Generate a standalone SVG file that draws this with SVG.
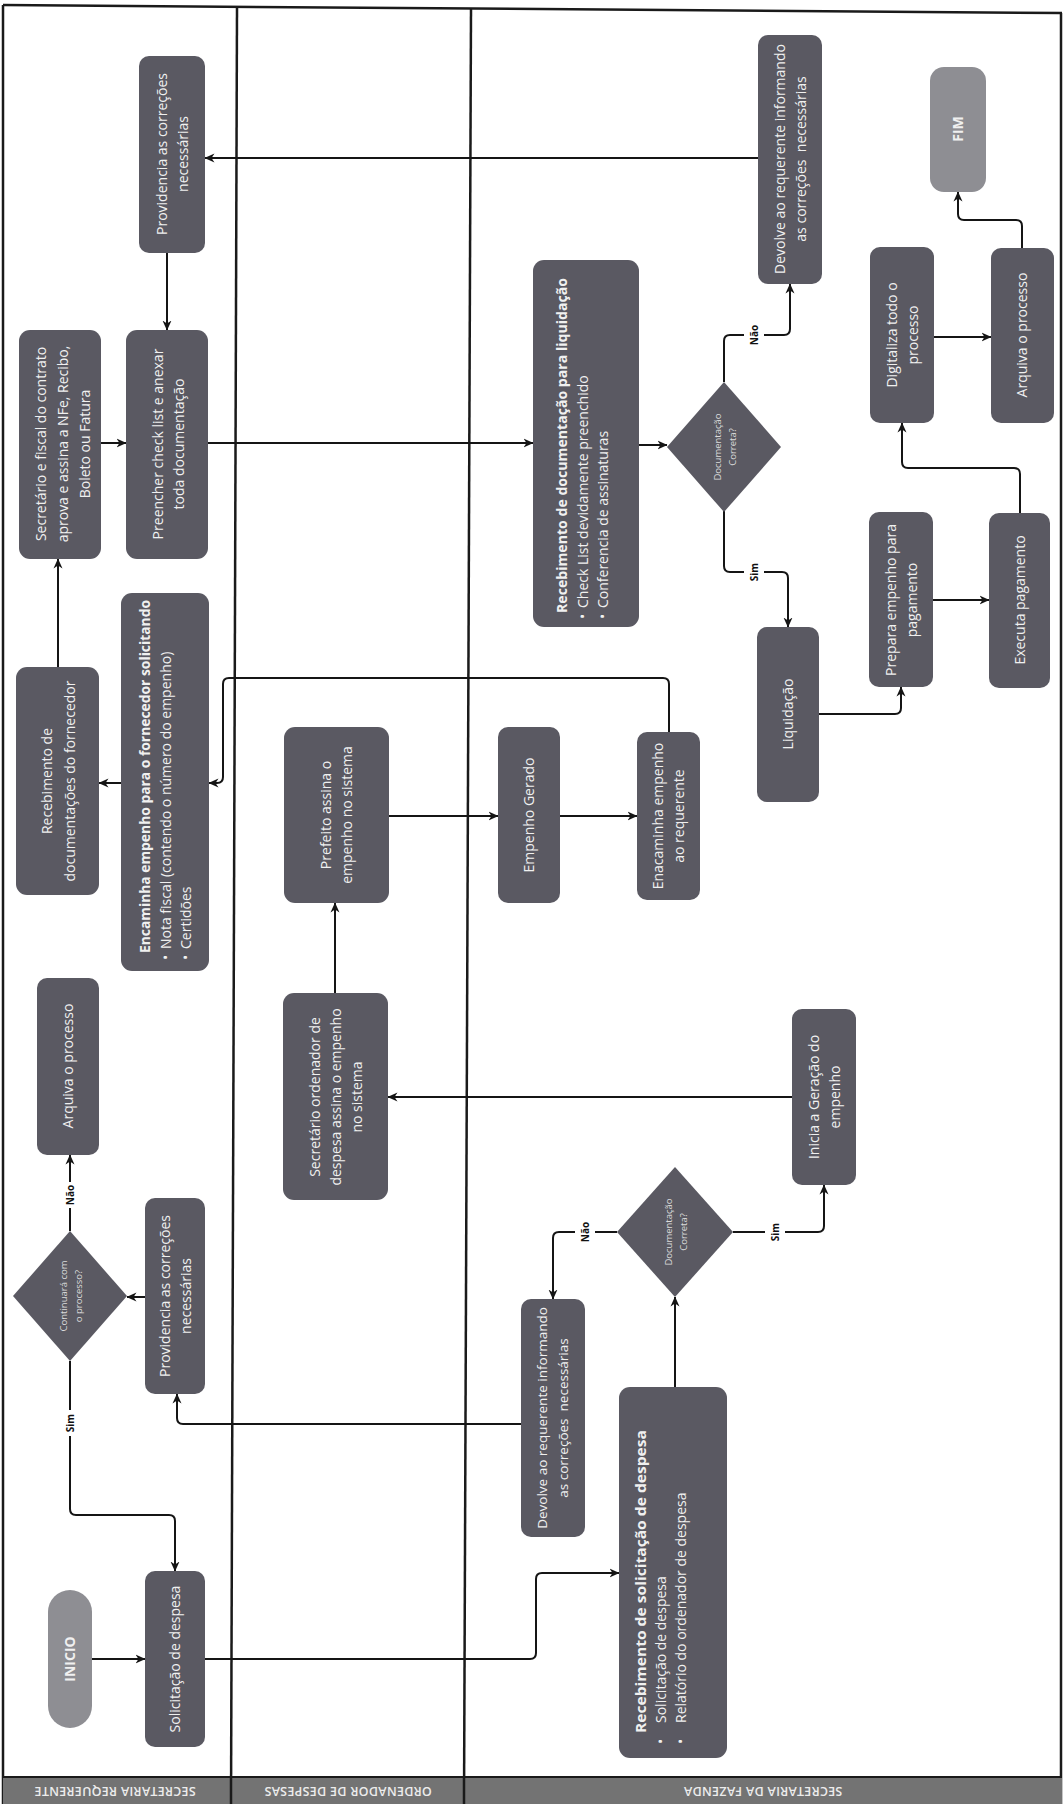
<svg xmlns="http://www.w3.org/2000/svg" width="1064" height="1804" viewBox="0 0 1064 1804">
<defs>
<style>
.n{fill:#5a5962}
.s{fill:#8e8e93}
.t{fill:#f0f0f0;font-family:"Open Sans","Liberation Sans",sans-serif;font-size:14px}
.dt{fill:#dcdcdc;font-family:"Open Sans","Liberation Sans",sans-serif;font-size:9.5px}
.b{font-weight:700}
.sm{font-size:13.5px}
.c{fill:none;stroke:#151515;stroke-width:2;marker-end:url(#ah)}
.fr{fill:none;stroke:#1a1a1a;stroke-width:2.5}
.lb{fill:#111;font-family:"Open Sans","Liberation Sans",sans-serif;font-size:10px;font-weight:700}
.hd{fill:#ececec;font-family:"Open Sans","Liberation Sans",sans-serif;font-size:12.5px;font-weight:600;letter-spacing:0.3px}
</style>
<marker id="ah" viewBox="0 0 10 10" refX="9.5" refY="5" markerWidth="10" markerHeight="10" markerUnits="userSpaceOnUse" orient="auto">
<path d="M0,0.5 L10,5 L0,9.5 L3,5 z" fill="#151515"/>
</marker>
</defs>
<rect x="0" y="0" width="1064" height="1804" fill="#ffffff"/>

<g id="lanes">
<path class="fr" d="M3,5 L1062,13"/>
<path class="fr" d="M3,5 V1804"/>
<path class="fr" d="M1061,13 V1804" stroke-width="3"/>
<path class="fr" d="M237,8 L231,1804"/>
<path class="fr" d="M471,9 L464,1804"/>
<rect x="3" y="1778" width="1059" height="26" fill="#737373"/>
<path d="M3,1777 H1062" stroke="#1a1a1a" stroke-width="2"/>
<path d="M231,1778 V1804 M464,1778 V1804" stroke="#1a1a1a" stroke-width="2.5"/>
<text class="hd" text-anchor="middle" transform="translate(115,1791) rotate(180)" y="4.5">SECRETARIA REQUERENTE</text>
<text class="hd" text-anchor="middle" transform="translate(348,1791) rotate(180)" y="4.5">ORDENADOR DE DESPESAS</text>
<text class="hd" text-anchor="middle" transform="translate(763,1791) rotate(180)" y="4.5">SECRETARIA DA FAZENDA</text>
</g>

<g id="connectors">
<path class="c" d="M92,1659 H145"/>
<path class="c" d="M205,1659 H530 Q536,1659 536,1653 V1579 Q536,1573 542,1573 H619"/>
<path class="c" d="M675,1387 V1297"/>
<path class="c" d="M617,1232 H559 Q553,1232 553,1238 V1299"/>
<path class="c" d="M733,1232 H818 Q824,1232 824,1226 V1185"/>
<path class="c" d="M521,1424 H183 Q177,1424 177,1418 V1394"/>
<path class="c" d="M145,1297 H127"/>
<path class="c" d="M70,1361 V1509 Q70,1515 76,1515 H169 Q175,1515 175,1521 V1571"/>
<path class="c" d="M70,1231 V1155"/>
<path class="c" d="M792,1097 H388"/>
<path class="c" d="M335,993 V903"/>
<path class="c" d="M389,816 H498"/>
<path class="c" d="M560,816 H637"/>
<path class="c" d="M669,732 V684 Q669,678 663,678 H229 Q223,678 223,684 V777 Q223,783 217,783 H209"/>
<path class="c" d="M121,783 H99"/>
<path class="c" d="M58,667 V559"/>
<path class="c" d="M101,443 H126"/>
<path class="c" d="M208,443 H533"/>
<path class="c" d="M639,445 H667"/>
<path class="c" d="M724,382 V341 Q724,335 730,335 H784 Q790,335 790,329 V284"/>
<path class="c" d="M724,510 V566 Q724,572 730,572 H782 Q788,572 788,578 V627"/>
<path class="c" d="M758,158 H205"/>
<path class="c" d="M167,253 V330"/>
<path class="c" d="M819,714 H895 Q901,714 901,708 V687"/>
<path class="c" d="M933,600 H989"/>
<path class="c" d="M1020,513 V474 Q1020,468 1014,468 H908 Q902,468 902,462 V423"/>
<path class="c" d="M934,337 H991"/>
<path class="c" d="M1022,248 V226 Q1022,220 1016,220 H964 Q958,220 958,214 V192"/>
<g id="labels">
<rect x="575" y="1219" width="20" height="26" fill="#fff"/>
<text class="lb" text-anchor="middle" transform="translate(585,1232) rotate(-90)" y="3.5">Não</text>
<rect x="765" y="1219" width="20" height="26" fill="#fff"/>
<text class="lb" text-anchor="middle" transform="translate(775,1232) rotate(-90)" y="3.5">Sim</text>
<rect x="62" y="1410" width="16" height="26" fill="#fff"/>
<text class="lb" text-anchor="middle" transform="translate(70,1423) rotate(-90)" y="3.5">Sim</text>
<rect x="62" y="1182" width="16" height="26" fill="#fff"/>
<text class="lb" text-anchor="middle" transform="translate(70,1195) rotate(-90)" y="3.5">Não</text>
<rect x="744" y="322" width="20" height="26" fill="#fff"/>
<text class="lb" text-anchor="middle" transform="translate(754,335) rotate(-90)" y="3.5">Não</text>
<rect x="744" y="559" width="20" height="26" fill="#fff"/>
<text class="lb" text-anchor="middle" transform="translate(754,572) rotate(-90)" y="3.5">Sim</text>
</g>
</g>

<g id="inicio">
<rect class="s" x="48" y="1590" width="44" height="138" rx="22"/>
<text class="t b" text-anchor="middle" transform="translate(70,1659) rotate(-90)" y="5">INICIO</text>
</g>
<g id="solicitacao">
<rect class="n" x="145" y="1571" width="60" height="176" rx="10"/>
<text class="t" text-anchor="middle" transform="translate(175,1659) rotate(-90)" y="5">Solicitação de despesa</text>
</g>
<g id="recebimento-solicitacao">
<rect class="n" x="619" y="1387" width="108" height="371" rx="11"/>
<text class="t" transform="translate(673,1572) rotate(-90)">
<tspan class="b" x="-161" y="-27" textLength="303" lengthAdjust="spacingAndGlyphs">Recebimento de solicitação de despesa</tspan>
<tspan x="-172" y="-7">•</tspan><tspan x="-151" y="-7">Solicitação de despesa</tspan>
<tspan x="-172" y="13">•</tspan><tspan x="-151" y="13">Relatório do ordenador de despesa</tspan>
</text>
</g>
<g id="devolve-1">
<rect class="n" x="521" y="1299" width="64" height="238" rx="10"/>
<text class="t sm" text-anchor="middle" xml:space="preserve" transform="translate(553,1418) rotate(-90)"><tspan x="0" y="-6">Devolve ao requerente informando</tspan><tspan x="0" y="15">as correções  necessárias</tspan></text>
</g>
<g id="decisao-1">
<polygon class="n" points="675,1167 733,1232 675,1297 617,1232"/>
<text class="dt" text-anchor="middle" transform="translate(676,1232) rotate(-90)"><tspan x="0" y="-4.5">Documentação</tspan><tspan x="0" y="11">Correta?</tspan></text>
</g>
<g id="continuara">
<polygon class="n" points="70,1231 127,1296 70,1361 13,1296"/>
<text class="dt" text-anchor="middle" transform="translate(71,1296) rotate(-90)"><tspan x="0" y="-4.5">Continuará com</tspan><tspan x="0" y="11">o processo?</tspan></text>
</g>
<g id="providencia-1">
<rect class="n" x="145" y="1198" width="60" height="196" rx="10"/>
<text class="t" text-anchor="middle" transform="translate(175,1296) rotate(-90)"><tspan x="0" y="-5.5">Providencia as correções</tspan><tspan x="0" y="15.5">necessárias</tspan></text>
</g>
<g id="arquiva-1">
<rect class="n" x="37" y="978" width="62" height="177" rx="10"/>
<text class="t" text-anchor="middle" transform="translate(68,1066) rotate(-90)" y="5">Arquiva o processo</text>
</g>
<g id="inicia-geracao">
<rect class="n" x="792" y="1009" width="64" height="176" rx="10"/>
<text class="t" text-anchor="middle" transform="translate(824,1097) rotate(-90)"><tspan x="0" y="-5.5">Inicia a Geração do</tspan><tspan x="0" y="15.5">empenho</tspan></text>
</g>
<g id="secretario-ordenador">
<rect class="n" x="283" y="993" width="105" height="207" rx="11"/>
<text class="t" text-anchor="middle" transform="translate(336,1097) rotate(-90)"><tspan x="0" y="-16">Secretário ordenador de</tspan><tspan x="0" y="5">despesa assina o empenho</tspan><tspan x="0" y="26">no sistema</tspan></text>
</g>
<g id="prefeito">
<rect class="n" x="284" y="727" width="105" height="176" rx="11"/>
<text class="t" text-anchor="middle" transform="translate(336,815) rotate(-90)"><tspan x="0" y="-5.5">Prefeito assina o</tspan><tspan x="0" y="15.5">empenho no sistema</tspan></text>
</g>
<g id="empenho-gerado">
<rect class="n" x="498" y="727" width="62" height="176" rx="10"/>
<text class="t" text-anchor="middle" transform="translate(529,815) rotate(-90)" y="5">Empenho Gerado</text>
</g>
<g id="enacaminha">
<rect class="n" x="637" y="732" width="63" height="168" rx="10"/>
<text class="t" text-anchor="middle" transform="translate(668,816) rotate(-90)"><tspan x="0" y="-5.5">Enacaminha empenho</tspan><tspan x="0" y="15.5">ao requerente</tspan></text>
</g>
<g id="encaminha-fornecedor">
<rect class="n" x="121" y="593" width="88" height="378" rx="11"/>
<text class="t" transform="translate(165,782) rotate(-90)">
<tspan class="b" x="-171" y="-15.5" textLength="353" lengthAdjust="spacingAndGlyphs">Encaminha empenho para o fornecedor solicitando</tspan>
<tspan x="-178" y="5.5">•</tspan><tspan x="-167" y="5.5">Nota fiscal (contendo o número do empenho)</tspan>
<tspan x="-178" y="25.5">•</tspan><tspan x="-167" y="25.5">Certidões</tspan>
</text>
</g>
<g id="recebimento-fornecedor">
<rect class="n" x="16" y="667" width="83" height="228" rx="11"/>
<text class="t" text-anchor="middle" transform="translate(58,781) rotate(-90)"><tspan x="0" y="-6.5">Recebimento de</tspan><tspan x="0" y="16.5">documentações do fornecedor</tspan></text>
</g>
<g id="secretario-fiscal">
<rect class="n" x="19" y="330" width="82" height="229" rx="11"/>
<text class="t" text-anchor="middle" transform="translate(62,444) rotate(-90)"><tspan x="0" y="-16.5">Secretário e fiscal do contrato</tspan><tspan x="0" y="5.5">aprova e assina a NFe, Recibo,</tspan><tspan x="0" y="27.5">Boleto ou Fatura</tspan></text>
</g>
<g id="preencher">
<rect class="n" x="126" y="330" width="82" height="229" rx="11"/>
<text class="t" text-anchor="middle" transform="translate(168,444) rotate(-90)"><tspan x="0" y="-5.5">Preencher check list e anexar</tspan><tspan x="0" y="15.5">toda documentação</tspan></text>
</g>
<g id="recebimento-liquidacao">
<rect class="n" x="533" y="260" width="106" height="367" rx="11"/>
<text class="t" transform="translate(586,443) rotate(-90)">
<tspan class="b" x="-170" y="-19" textLength="335" lengthAdjust="spacingAndGlyphs">Recebimento de documentação para liquidação</tspan>
<tspan x="-176" y="2">•</tspan><tspan x="-165" y="2">Check List devidamente preenchido</tspan>
<tspan x="-176" y="22">•</tspan><tspan x="-165" y="22">Conferencia de assinaturas</tspan>
</text>
</g>
<g id="decisao-2">
<polygon class="n" points="724,382 781,447 724,512 667,447"/>
<text class="dt" text-anchor="middle" transform="translate(725,447) rotate(-90)"><tspan x="0" y="-4.5">Documentação</tspan><tspan x="0" y="11">Correta?</tspan></text>
</g>
<g id="devolve-2">
<rect class="n" x="758" y="35" width="64" height="249" rx="10"/>
<text class="t" text-anchor="middle" xml:space="preserve" transform="translate(790,159) rotate(-90)"><tspan x="0" y="-5.5">Devolve ao requerente informando</tspan><tspan x="0" y="15.5">as correções  necessárias</tspan></text>
</g>
<g id="providencia-2">
<rect class="n" x="139" y="56" width="66" height="197" rx="10"/>
<text class="t" text-anchor="middle" transform="translate(172,154) rotate(-90)"><tspan x="0" y="-5.5">Providencia as correções</tspan><tspan x="0" y="15.5">necessárias</tspan></text>
</g>
<g id="liquidacao">
<rect class="n" x="757" y="627" width="62" height="175" rx="10"/>
<text class="t" text-anchor="middle" transform="translate(788,714) rotate(-90)" y="5">Liquidação</text>
</g>
<g id="prepara">
<rect class="n" x="869" y="512" width="64" height="175" rx="10"/>
<text class="t" text-anchor="middle" transform="translate(901,600) rotate(-90)"><tspan x="0" y="-5.5">Prepara empenho para</tspan><tspan x="0" y="15.5">pagamento</tspan></text>
</g>
<g id="executa">
<rect class="n" x="989" y="513" width="61" height="175" rx="10"/>
<text class="t" text-anchor="middle" transform="translate(1020,600) rotate(-90)" y="5">Executa pagamento</text>
</g>
<g id="digitaliza">
<rect class="n" x="870" y="247" width="64" height="176" rx="10"/>
<text class="t" text-anchor="middle" transform="translate(902,335) rotate(-90)"><tspan x="0" y="-5.5">Digitaliza todo o</tspan><tspan x="0" y="15.5">processo</tspan></text>
</g>
<g id="arquiva-2">
<rect class="n" x="991" y="248" width="63" height="175" rx="10"/>
<text class="t" text-anchor="middle" transform="translate(1022,335) rotate(-90)" y="5">Arquiva o processo</text>
</g>
<g id="fim">
<rect class="s" x="930" y="67" width="56" height="125" rx="14"/>
<text class="t b" text-anchor="middle" transform="translate(958,129) rotate(-90)" y="5">FIM</text>
</g>
</svg>
